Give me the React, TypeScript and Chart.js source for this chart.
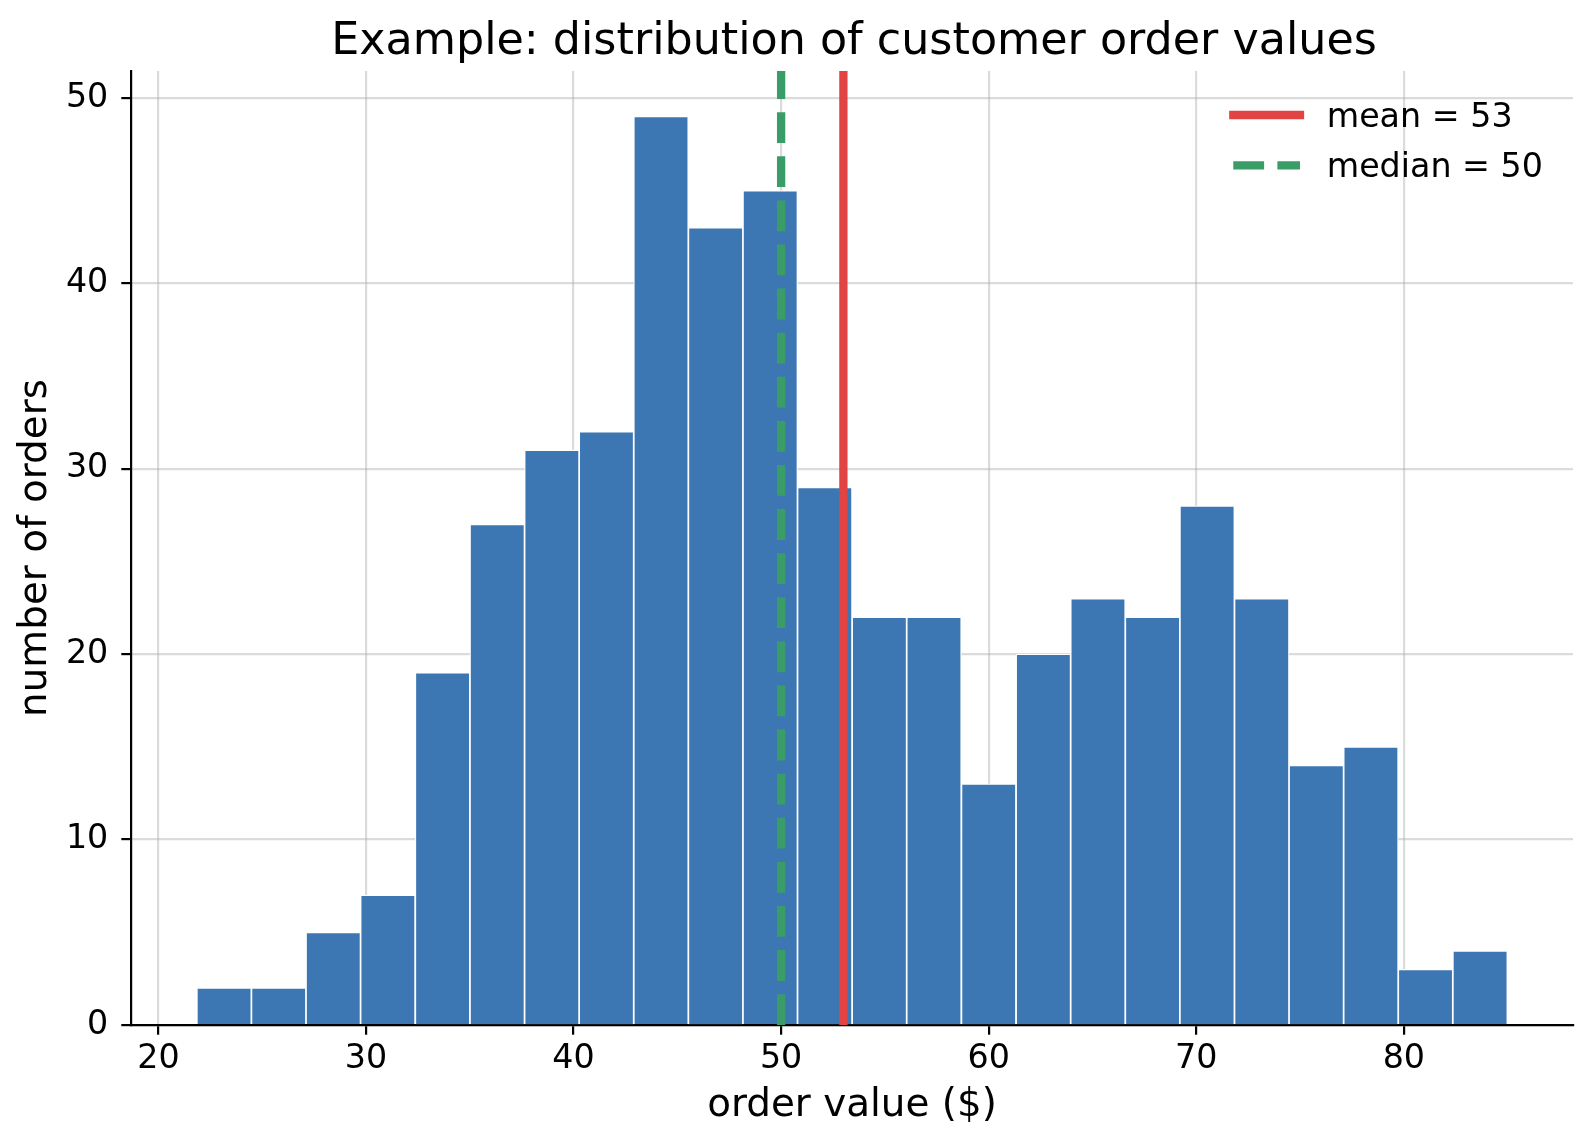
import React, { useEffect, useRef } from "react";
import { Chart, registerables } from "chart.js";

Chart.register(...registerables);

// ---- data ----
const binEdges = [
  21.85, 24.48, 27.11, 29.74, 32.37, 35.01, 37.64, 40.27, 42.9, 45.53, 48.16, 50.79,
  53.42, 56.05, 58.68, 61.32, 63.95, 66.58, 69.21, 71.84, 74.47, 77.1, 79.73, 82.36, 84.99,
];
const counts = [2, 2, 5, 7, 19, 27, 31, 32, 49, 43, 45, 29, 22, 22, 13, 20, 23, 22, 28, 23, 14, 15, 3, 4];
const meanValue = 53;
const medianValue = 50;
const xLimits = [18.68, 88.15];
const yLimits = [0, 51.45];
const xTickStep = 10;
const yTickStep = 10;

const titleText = "Example: distribution of customer order values";
const xTitle = "order value ($)";
const yTitle = "number of orders";

const FONT = "'DejaVu Sans', 'Noto Sans', sans-serif";
const BAR_COLOR = "#3c77b4";
const MEAN_COLOR = "#e24343";
const MEDIAN_COLOR = "#3a9d68";
const GRID_COLOR = "rgba(176,176,176,0.45)";

const layerPlugin = {
  id: "layerAndDecor",
  beforeDatasetDraw(chart: any, args: any) {
    const ds = chart.data.datasets[args.index];
    if (ds.type === "line") return false;
    return true;
  },
  afterDraw(chart: any) {
    const { ctx, chartArea } = chart;
    // lines drawn above the grid (matplotlib zorder)
    chart.data.datasets.forEach((ds: any, i: number) => {
      if (ds.type !== "line") return;
      const meta = chart.getDatasetMeta(i);
      ctx.save();
      ctx.beginPath();
      ctx.rect(chartArea.left, chartArea.top, chartArea.right - chartArea.left, chartArea.bottom - chartArea.top);
      ctx.clip();
      meta.controller.draw();
      ctx.restore();
    });

    // legend (upper right, no frame)
    const x0 = chartArea.right - 339.7;
    const x1 = x0 + 66.7;
    let y = chartArea.top + 44;
    chart.data.datasets.forEach((ds: any) => {
      if (ds.type !== "line") return;
      ctx.save();
      ctx.strokeStyle = ds.borderColor;
      ctx.lineWidth = ds.borderWidth;
      ctx.lineCap = ds.borderDash && ds.borderDash.length ? "butt" : "square";
      ctx.setLineDash(ds.borderDash || []);
      ctx.beginPath();
      ctx.moveTo(x0, y);
      ctx.lineTo(x1, y);
      ctx.stroke();
      ctx.setLineDash([]);
      ctx.fillStyle = "#000";
      ctx.font = `33.3px ${FONT}`;
      ctx.textAlign = "left";
      ctx.textBaseline = "alphabetic";
      ctx.fillText(ds.label, x1 + 26.7, y + 11.7);
      ctx.restore();
      y += 50.3;
    });

    // title centred over the axes
    ctx.save();
    ctx.fillStyle = "#000";
    ctx.font = `44.4px ${FONT}`;
    ctx.textAlign = "center";
    ctx.textBaseline = "alphabetic";
    ctx.fillText(titleText, (chartArea.left + chartArea.right) / 2 + 2, 53.5);
    ctx.restore();
  },
};

export default function App() {
  const canvasRef = useRef<HTMLCanvasElement | null>(null);

  useEffect(() => {
    document.body.style.margin = "0";
    document.body.style.overflow = "hidden";
    const canvas = canvasRef.current;
    if (!canvas) return;

    const barData = counts.map((c, i) => ({ x: (binEdges[i] + binEdges[i + 1]) / 2, y: c }));

    const chart = new Chart(canvas, {
      type: "bar",
      data: {
        datasets: [
          {
            type: "bar",
            label: "orders",
            data: barData,
            backgroundColor: BAR_COLOR,
            borderColor: "#ffffff",
            borderWidth: 1.2,
            borderSkipped: "start",
            barPercentage: 1,
            categoryPercentage: 1,
          } as any,
          {
            type: "line",
            label: `mean = ${meanValue}`,
            data: [
              { x: meanValue, y: yLimits[0] },
              { x: meanValue, y: yLimits[1] },
            ],
            borderColor: MEAN_COLOR,
            borderWidth: 8.3,
            pointRadius: 0,
            borderCapStyle: "butt",
            tension: 0,
          } as any,
          {
            type: "line",
            label: `median = ${medianValue}`,
            data: [
              { x: medianValue, y: yLimits[0] },
              { x: medianValue, y: yLimits[1] },
            ],
            borderColor: MEDIAN_COLOR,
            borderWidth: 8.3,
            borderDash: [30.8, 13.3],
            pointRadius: 0,
            borderCapStyle: "butt",
            tension: 0,
          } as any,
        ],
      },
      options: {
        responsive: false,
        devicePixelRatio: 1,
        animation: false,
        events: [],
        layout: { padding: { left: 0, right: 19, top: 71, bottom: 0 } },
        plugins: {
          legend: { display: false },
          title: { display: false },
          tooltip: { enabled: false },
        },
        scales: {
          x: {
            type: "linear",
            min: xLimits[0],
            max: xLimits[1],
            offset: false,
            z: 1,
            ticks: {
              stepSize: xTickStep,
              includeBounds: false,
              autoSkip: false,
              maxRotation: 0,
              color: "#000",
              padding: 5,
              font: { family: FONT, size: 33.3, lineHeight: 1.2 },
            },
            grid: {
              offset: false,
              color: GRID_COLOR,
              lineWidth: 2.2,
              drawTicks: true,
              tickLength: 9.7,
              tickColor: "#000",
              tickWidth: 2.2,
            },
            border: { display: true, color: "#000", width: 2.2 },
            title: {
              display: true,
              text: xTitle,
              color: "#000",
              font: { family: FONT, size: 38.9, lineHeight: 1.2 },
              padding: { top: 0, bottom: 18.2 },
            },
            afterFit: (s: any) => {
              s.height = 122;
            },
          },
          y: {
            type: "linear",
            min: yLimits[0],
            max: yLimits[1],
            z: 1,
            ticks: {
              stepSize: yTickStep,
              includeBounds: false,
              color: "#000",
              padding: 13,
              font: { family: FONT, size: 33.3, lineHeight: 1.2 },
            },
            grid: {
              offset: false,
              color: GRID_COLOR,
              lineWidth: 2.2,
              drawTicks: true,
              tickLength: 9.7,
              tickColor: "#000",
              tickWidth: 2.2,
            },
            border: { display: true, color: "#000", width: 2.2 },
            title: {
              display: true,
              text: yTitle,
              color: "#000",
              font: { family: FONT, size: 38.9, lineHeight: 1.2 },
              padding: { top: 12.2, bottom: 0 },
            },
            afterFit: (s: any) => {
              s.width = 131;
            },
          },
        },
      } as any,
      plugins: [layerPlugin],
    });

    return () => {
      chart.destroy();
    };
  }, []);

  return (
    <div style={{ position: "absolute", left: 0, top: 0, width: 1592, height: 1147, background: "#fff" }}>
      <canvas ref={canvasRef} width={1592} height={1147} style={{ width: 1592, height: 1147, display: "block" }} />
    </div>
  );
}
